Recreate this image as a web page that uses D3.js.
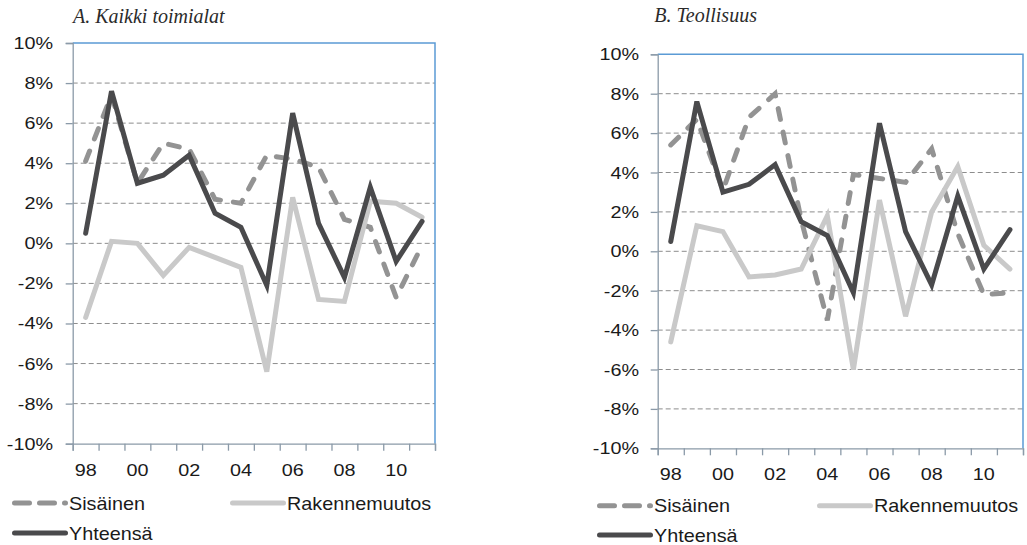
<!DOCTYPE html>
<html>
<head>
<meta charset="utf-8">
<script src="https://cdn.jsdelivr.net/npm/d3@7"></script>
<style>
  body { margin: 0; background: #fff; }
  svg { display: block; }
  text { font-family: "Liberation Sans", Arial, sans-serif; fill: #1a1a1a; }
</style>
</head>
<body>
<svg></svg>
<script>
// categories (years) and the labels shown under the axis
const YEARS = ['1998', '1999', '2000', '2001', '2002', '2003', '2004', '2005', '2006', '2007', '2008', '2009', '2010', '2011'];
const TICK_YEARS = ['1998', '2000', '2002', '2004', '2006', '2008', '2010'];
const TICK_LABELS = ['98', '00', '02', '04', '06', '08', '10'];
const Y_TICKS = [-10, -8, -6, -4, -2, 0, 2, 4, 6, 8, 10];

const SERIES_NAMES = ['Sisäinen', 'Rakennemuutos', 'Yhteensä'];

// A. Kaikki toimialat (%)
const A_SISAINEN = [4.1, 7.4, 3.0, 5.0, 4.7, 2.2, 2.0, 4.4, 4.2, 3.8, 1.2, 0.8, -2.7, -0.1];
const A_RAKENNE = [-3.7, 0.1, 0.0, -1.6, -0.2, -0.7, -1.2, -6.4, 2.3, -2.8, -2.9, 2.1, 2.0, 1.3];
const A_YHTEENSA = [0.5, 7.6, 3.0, 3.4, 4.4, 1.5, 0.8, -2.1, 6.5, 1.0, -1.7, 2.8, -0.9, 1.1];

// B. Teollisuus (%)
const B_SISAINEN = [5.4, 6.7, 3.1, 6.8, 8.0, 1.6, -3.5, 3.9, 3.7, 3.5, 5.2, 0.9, -2.2, -2.1];
const B_RAKENNE = [-4.6, 1.3, 1.0, -1.3, -1.2, -0.9, 1.8, -6.0, 2.6, -3.3, 2.0, 4.3, 0.3, -0.9];
const B_YHTEENSA = [0.5, 7.6, 3.0, 3.4, 4.4, 1.5, 0.8, -2.1, 6.5, 1.0, -1.7, 2.8, -0.9, 1.1];

const COLORS = ['#939393', '#c9c9c9', '#4a4a4c'];
const DASHES = ['11,13', null, null];
const LEGEND_DASHES = ['15,10', null, null];

const svg = d3.select('svg').attr('width', 1027).attr('height', 545);

const PANELS = [
  { title: 'A. Kaikki toimialat', titleX: 73, titleY: 22.5,
    left: 72.7, right: 435, top: 43, bottom: 443.7, yLabelX: 53, xLabelY: 476,
    rows: [503, 533], cols: [12, 230],
    data: [A_SISAINEN, A_RAKENNE, A_YHTEENSA] },
  { title: 'B. Teollisuus', titleX: 654.3, titleY: 22,
    left: 657.7, right: 1023, top: 54.3, bottom: 448.3, yLabelX: 639, xLabelY: 480,
    rows: [505.7, 535], cols: [597, 817],
    data: [B_SISAINEN, B_RAKENNE, B_YHTEENSA] }
];

PANELS.forEach(drawPanel);

function drawPanel(p) {
  const g = svg.append('g');

  const x = d3.scaleBand().domain(YEARS).range([p.left, p.right]).padding(0);
  const xi = d3.scaleLinear().domain([0, YEARS.length]).range([p.left, p.right]);
  const y = d3.scaleLinear().domain([-10, 10]).range([p.bottom, p.top]);
  const cx = d => x(d) + x.bandwidth() / 2;

  // title
  g.append('text')
    .attr('x', p.titleX).attr('y', p.titleY)
    .style('font-family', '"Liberation Serif", "Times New Roman", serif')
    .style('font-style', 'italic')
    .style('font-size', '20px')
    .style('fill', '#2b2b2b')
    .text(p.title);

  // dashed gridlines
  g.selectAll('.grid')
    .data(Y_TICKS.filter(v => v > -10 && v < 10))
    .enter().append('line')
    .attr('x1', p.left).attr('x2', p.right)
    .attr('y1', d => y(d)).attr('y2', d => y(d))
    .attr('stroke', '#8d8d8d').attr('stroke-width', 1)
    .attr('stroke-dasharray', '5,3');

  // top + right border of plot area
  g.append('path')
    .attr('d', `M${p.left},${p.top}H${p.right}V${p.bottom}`)
    .attr('fill', 'none').attr('stroke', '#5b9bd5').attr('stroke-width', 1.5);

  // y axis (ticks only, labels drawn below)
  g.append('g')
    .attr('transform', `translate(${p.left},0)`)
    .call(d3.axisLeft(y).tickValues(Y_TICKS).tickSize(7).tickFormat(''))
    .call(a => a.selectAll('line,path').attr('stroke', '#8b9aa8').attr('stroke-width', 1.3));

  // x axis with ticks on category boundaries
  g.append('g')
    .attr('transform', `translate(0,${p.bottom})`)
    .call(d3.axisBottom(xi).ticks(YEARS.length).tickSize(7).tickSizeOuter(7).tickFormat(''))
    .call(a => a.selectAll('line,path').attr('stroke', '#8b9aa8').attr('stroke-width', 1.3));

  // y labels
  g.selectAll('.ylab')
    .data(Y_TICKS)
    .enter().append('text')
    .attr('text-anchor', 'end')
    .attr('transform', d => `translate(${p.yLabelX},${y(d) + 6}) scale(1.2,1)`)
    .style('font-size', '16.5px')
    .text(d => d + '%');

  // x labels
  g.selectAll('.xlab')
    .data(TICK_YEARS)
    .enter().append('text')
    .attr('text-anchor', 'middle')
    .attr('transform', d => `translate(${cx(d)},${p.xLabelY}) scale(1.2,1)`)
    .style('font-size', '16.5px')
    .text((d, i) => TICK_LABELS[i]);

  // series lines
  const line = d3.line().x((d, i) => cx(YEARS[i])).y(d => y(d));
  p.data.forEach((vals, k) => {
    g.append('path')
      .datum(vals)
      .attr('d', line)
      .attr('fill', 'none')
      .attr('stroke', COLORS[k])
      .attr('stroke-width', 5)
      .attr('stroke-linecap', 'round')
      .attr('stroke-linejoin', 'miter')
      .attr('stroke-dasharray', DASHES[k]);
  });

  // legend
  const slots = [[p.cols[0], p.rows[0]], [p.cols[1], p.rows[0]], [p.cols[0], p.rows[1]]];
  SERIES_NAMES.forEach((name, k) => {
    const [lx, ly] = slots[k];
    g.append('line')
      .attr('x1', lx + 2.5).attr('x2', lx + 53.5)
      .attr('y1', ly).attr('y2', ly)
      .attr('stroke', COLORS[k]).attr('stroke-width', 5)
      .attr('stroke-linecap', 'round')
      .attr('stroke-dasharray', LEGEND_DASHES[k]);
    g.append('text')
      .attr('transform', `translate(${lx + 57},${ly + 6.5}) scale(1.1,1)`)
      .style('font-size', '18px')
      .text(name);
  });
}
</script>
</body>
</html>
